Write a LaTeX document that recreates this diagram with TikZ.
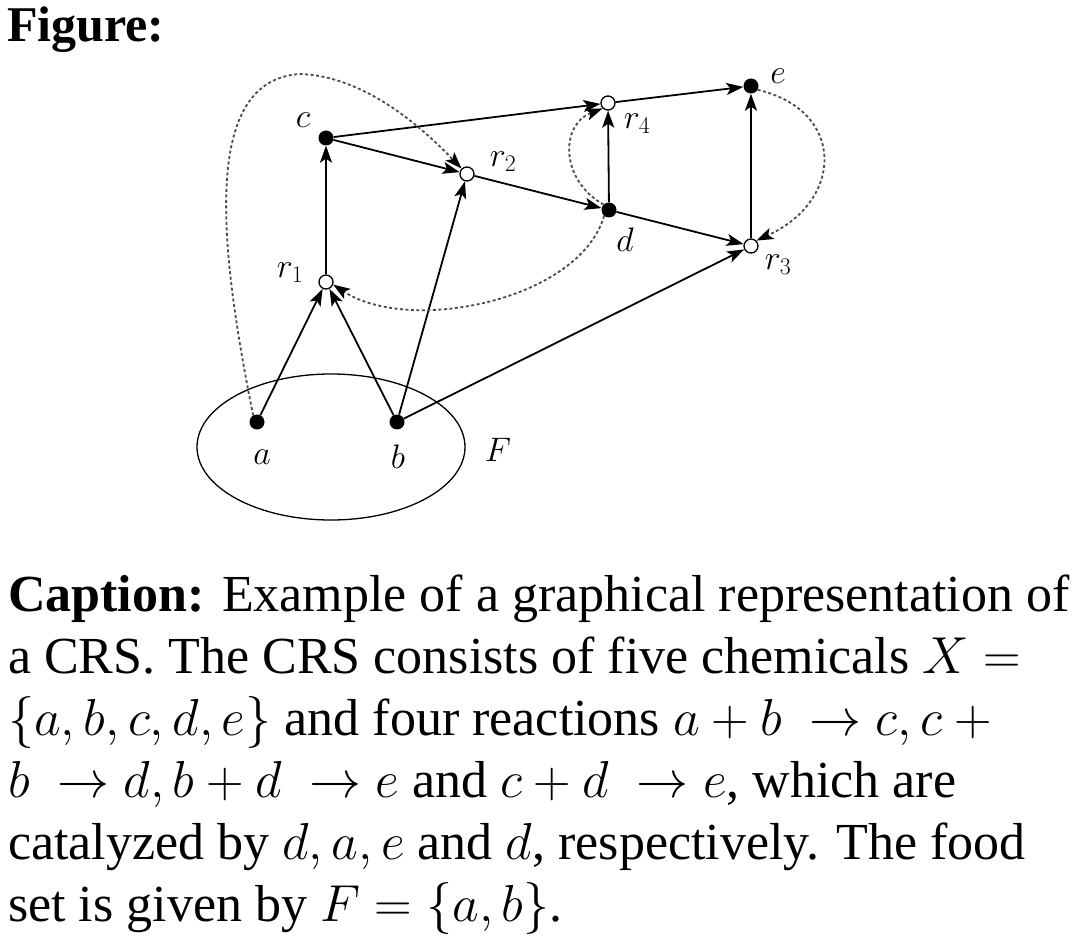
\documentclass[tikz,border=0pt]{standalone}
\usepackage{fix-cm}
\usepackage{fontspec}
\setmainfont{Liberation Serif}
\usetikzlibrary{arrows.meta,shapes.geometric}
\tikzset{
chem/.style={circle,fill=black,inner sep=0pt,minimum size=15pt},
rxn/.style={circle,draw,line width=1.3pt,fill=white,inner sep=0pt,minimum size=14pt},
reac/.style={line width=1.8pt,-{Stealth[length=17pt,width=12pt,inset=4pt]}},
catal/.style={line width=1.8pt,gray!60!black,dash pattern=on 3pt off 2.5pt,-{Stealth[length=17pt,width=12pt,inset=4pt,black]}},
lbl/.style={font=\fontsize{34}{40}\selectfont,inner sep=0pt}
}

\begin{document}
\begin{tikzpicture}[x=1pt,y=-1pt]
\useasboundingbox[fill=white] (0,0) rectangle (1080,952);
\node[anchor=base west,inner sep=0pt,font=\fontsize{50}{60}\selectfont\bfseries] (fig) at (7,42) {Figure:};
% chemicals and reactions
\node[chem] (c) at (326,138) {};
\node[rxn] (r2) at (467,174) {};
\node[rxn] (r4) at (608,103) {};
\node[chem] (e) at (751,86) {};
\node[chem] (d) at (609,210) {};
\node[rxn] (r3) at (751,246) {};
\node[rxn] (r1) at (326,282) {};
\node[chem] (a) at (257,422) {};
\node[chem] (b) at (397,422) {};
\node[ellipse,draw,line width=1.3pt,minimum width=268pt,minimum height=146pt] (F) at (331,447) {};
% labels
\node[lbl] (cl) at (303,120) {$c$};
\node[lbl] (r2l) at (503,162) {$r_2$};
\node[lbl] (r4l) at (637,124) {$r_4$};
\node[lbl] (el) at (778,76) {$e$};
\node[lbl] (dl) at (625,240) {$d$};
\node[lbl] (r3l) at (778,265) {$r_3$};
\node[lbl] (r1l) at (290,273) {$r_1$};
\node[lbl] (al) at (262,457) {$a$};
\node[lbl] (bl) at (398,457) {$b$};
\node[lbl] (Fl) at (498,450) {$F$};
% reactions
\draw[reac] (a) -- (r1);
\draw[reac] (b) -- (r1);
\draw[reac] (r1) -- (c);
\draw[reac] (c) -- (r2);
\draw[reac] (b) -- (r2);
\draw[reac] (r2) -- (d);
\draw[reac] (c) -- (r4);
\draw[reac] (d) -- (r4);
\draw[reac] (r4) -- (e);
\draw[reac] (b) -- (r3);
\draw[reac] (d) -- (r3);
\draw[reac] (r3) -- (e);
% catalysis
\draw[catal] (a.120) .. controls (220,250) and (200,80) .. (300,74) .. controls (360,76) and (415,120) .. (r2.135);
\draw[catal] (d.230) .. controls (580,300) and (410,335) .. (r1.-20);
\draw[catal] (d.135) .. controls (560,180) and (560,125) .. (r4.225);
\draw[catal] (e.-30) .. controls (845,110) and (845,200) .. (r3.45);
% caption
\node[anchor=base west,align=left,inner sep=0pt,font=\fontsize{52}{62}\selectfont] (cap) at (8,921) {\textbf{Caption:} Example of a graphical representation of\\ a CRS. The CRS consists of five chemicals $X=$\\ $\{a,b,c,d,e\}$ and four reactions $a+b\ \to c,c+{}$\\ $b\ \to d,b+d\ \to e$ and $c+d\ \to e$, which are\\ catalyzed by $d,a,e$ and $d$, respectively. The food\\ set is given by $F=\{a,b\}$.};
\end{tikzpicture}
\end{document}
